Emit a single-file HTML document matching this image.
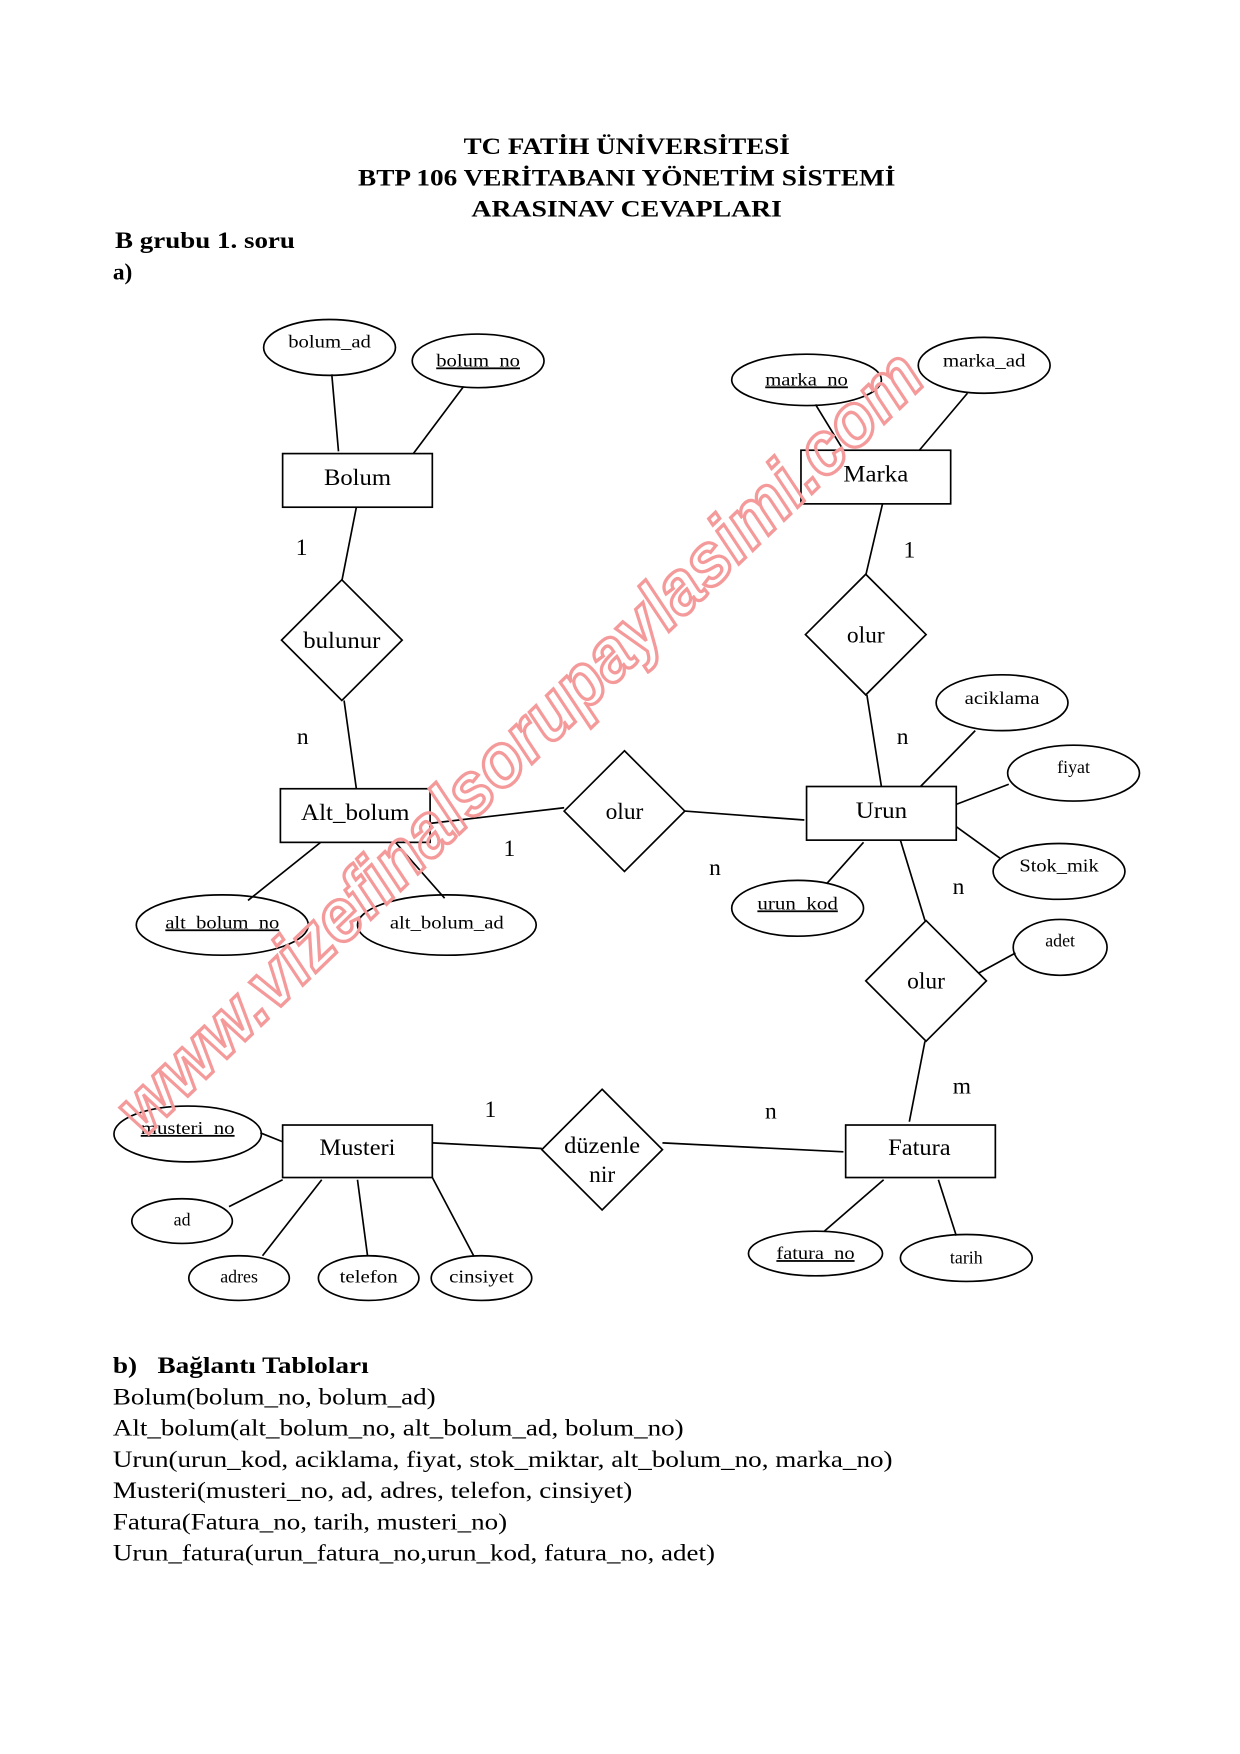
<!DOCTYPE html>
<html><head><meta charset="utf-8"><style>
html,body{margin:0;padding:0;background:#fff}
svg{display:block}
text{font-family:"Liberation Serif",serif;fill:#000}
</style></head><body>
<svg width="1240" height="1754" viewBox="0 0 1110 1570" preserveAspectRatio="none" xmlns="http://www.w3.org/2000/svg">
<g text-anchor="middle" font-weight="bold" font-size="21">
<text x="561" y="138" textLength="292" lengthAdjust="spacingAndGlyphs">TC FATİH ÜNİVERSİTESİ</text>
<text x="561" y="166" textLength="481" lengthAdjust="spacingAndGlyphs">BTP 106 VERİTABANI YÖNETİM SİSTEMİ</text>
<text x="561" y="194" textLength="278" lengthAdjust="spacingAndGlyphs">ARASINAV CEVAPLARI</text>
</g>
<text x="103" y="222" font-weight="bold" font-size="21" textLength="161" lengthAdjust="spacingAndGlyphs">B grubu 1. soru</text>
<text x="101" y="250" font-weight="bold" font-size="21">a)</text>

<g stroke="#000" stroke-width="1.5" fill="none">
<line x1="297" y1="335" x2="303" y2="404"/><line x1="415" y1="346" x2="370" y2="406"/>
<line x1="730" y1="362" x2="755" y2="403"/><line x1="866" y1="352" x2="823" y2="403"/>
<line x1="319" y1="454" x2="306" y2="520"/><line x1="308" y1="627" x2="319" y2="706"/>
<line x1="790" y1="451" x2="775" y2="515"/><line x1="776" y1="622" x2="789" y2="704"/>
<line x1="385" y1="737" x2="505" y2="723"/><line x1="613" y1="726" x2="720" y2="734"/>
<line x1="287" y1="754" x2="222" y2="806"/><line x1="354" y1="754" x2="398" y2="804"/>
<line x1="873" y1="654" x2="824" y2="704"/><line x1="903" y1="702" x2="856" y2="720"/>
<line x1="895" y1="768" x2="856" y2="740"/><line x1="773" y1="754" x2="740" y2="791"/>
<line x1="806" y1="752" x2="828" y2="824"/><line x1="909" y1="853" x2="876" y2="871"/>
<line x1="828" y1="932" x2="814" y2="1004"/>
<line x1="387" y1="1023" x2="485" y2="1028"/><line x1="593" y1="1023" x2="755" y2="1031"/>
<line x1="233" y1="1014" x2="253" y2="1022"/><line x1="205" y1="1080" x2="253" y2="1056"/>
<line x1="235" y1="1124" x2="288" y2="1056"/><line x1="320" y1="1056" x2="329" y2="1124"/>
<line x1="387" y1="1054" x2="424" y2="1124"/>
<line x1="791" y1="1056" x2="738" y2="1102"/><line x1="840" y1="1056" x2="856" y2="1106"/>

<ellipse cx="295" cy="311" rx="59" ry="25"/><ellipse cx="428" cy="323" rx="59" ry="24"/>
<ellipse cx="722" cy="340" rx="67" ry="23"/><ellipse cx="881" cy="327" rx="59" ry="25"/>
<ellipse cx="199" cy="828" rx="77" ry="27"/><ellipse cx="400" cy="828" rx="80" ry="27"/>
<ellipse cx="897" cy="629" rx="59" ry="25"/><ellipse cx="961" cy="692" rx="59" ry="25"/>
<ellipse cx="948" cy="780" rx="59" ry="25"/><ellipse cx="714" cy="813" rx="59" ry="25"/>
<ellipse cx="949" cy="848" rx="42" ry="25"/>
<ellipse cx="168" cy="1015" rx="66" ry="25"/><ellipse cx="163" cy="1093" rx="45" ry="20"/>
<ellipse cx="214" cy="1144" rx="45" ry="20"/><ellipse cx="330" cy="1144" rx="45" ry="20"/>
<ellipse cx="431" cy="1144" rx="45" ry="20"/>
<ellipse cx="730" cy="1122" rx="60" ry="20"/><ellipse cx="865" cy="1126" rx="59" ry="21"/>

<rect x="253" y="406" width="134" height="48"/><rect x="717" y="403" width="134" height="48"/>
<rect x="251" y="706" width="134" height="48"/><rect x="722" y="704" width="134" height="48"/>
<rect x="253" y="1007" width="134" height="47"/><rect x="757" y="1007" width="134" height="47"/>

<polygon points="306,519 360,573 306,627 252,573"/>
<polygon points="775,514 829,568 775,622 721,568"/>
<polygon points="559,672 613,726 559,780 505,726"/>
<polygon points="829,824 883,878 829,932 775,878"/>
<polygon points="539,975 593,1029 539,1083 485,1029"/>
</g>

<g text-anchor="middle" font-size="21">
<text x="320" y="434" textLength="60" lengthAdjust="spacingAndGlyphs">Bolum</text>
<text x="784" y="431" textLength="58" lengthAdjust="spacingAndGlyphs">Marka</text>
<text x="318" y="734" textLength="97" lengthAdjust="spacingAndGlyphs">Alt_bolum</text>
<text x="789" y="732" textLength="46" lengthAdjust="spacingAndGlyphs">Urun</text>
<text x="320" y="1034" textLength="68" lengthAdjust="spacingAndGlyphs">Musteri</text>
<text x="823" y="1034" textLength="56" lengthAdjust="spacingAndGlyphs">Fatura</text>
<text x="306" y="580" textLength="69" lengthAdjust="spacingAndGlyphs">bulunur</text>
<text x="775" y="575">olur</text>
<text x="559" y="733">olur</text><text x="829" y="885">olur</text>
<text x="539" y="1032" textLength="68" lengthAdjust="spacingAndGlyphs">düzenle</text><text x="539" y="1058">nir</text>
<text x="270" y="497">1</text><text x="271" y="666">n</text>
<text x="814" y="499">1</text><text x="808" y="666">n</text>
<text x="456" y="766">1</text><text x="640" y="783">n</text>
<text x="858" y="800">n</text><text x="861" y="979">m</text>
<text x="439" y="1000">1</text><text x="690" y="1001">n</text>
</g>
<g text-anchor="middle" font-size="16">
<text x="295" y="311" textLength="74" lengthAdjust="spacingAndGlyphs">bolum_ad</text>
<text x="428" y="328" text-decoration="underline" textLength="75" lengthAdjust="spacingAndGlyphs">bolum_no</text>
<text x="722" y="345" text-decoration="underline" textLength="74" lengthAdjust="spacingAndGlyphs">marka_no</text>
<text x="881" y="328" textLength="74" lengthAdjust="spacingAndGlyphs">marka_ad</text>
<text x="199" y="831" text-decoration="underline" textLength="102" lengthAdjust="spacingAndGlyphs">alt_bolum_no</text>
<text x="400" y="831" textLength="102" lengthAdjust="spacingAndGlyphs">alt_bolum_ad</text>
<text x="897" y="630" textLength="67" lengthAdjust="spacingAndGlyphs">aciklama</text><text x="961" y="692">fiyat</text>
<text x="948" y="780" textLength="71" lengthAdjust="spacingAndGlyphs">Stok_mik</text>
<text x="714" y="814" text-decoration="underline" textLength="72" lengthAdjust="spacingAndGlyphs">urun_kod</text>
<text x="949" y="847">adet</text>
<text x="168" y="1015" text-decoration="underline" textLength="84" lengthAdjust="spacingAndGlyphs">musteri_no</text>
<text x="163" y="1097">ad</text><text x="214" y="1148">adres</text>
<text x="330" y="1148" textLength="52" lengthAdjust="spacingAndGlyphs">telefon</text>
<text x="431" y="1148" textLength="58" lengthAdjust="spacingAndGlyphs">cinsiyet</text>
<text x="730" y="1127" text-decoration="underline" textLength="70" lengthAdjust="spacingAndGlyphs">fatura_no</text>
<text x="865" y="1131">tarih</text>
</g>

<text x="480" y="680" transform="rotate(-44 480 680)" text-anchor="middle" font-size="66" font-weight="bold" font-style="italic" fill="none" stroke="#f59a9a" stroke-width="3" textLength="975" lengthAdjust="spacingAndGlyphs" style="fill:none;font-family:'Liberation Sans',sans-serif">www.vizefinalsorupaylasimi.com</text>

<text x="101" y="1229" font-weight="bold" font-size="21" textLength="229" lengthAdjust="spacingAndGlyphs">b)&#160;&#160;&#160;Bağlantı Tabloları</text>
<g font-size="21">
<text x="101" y="1257" textLength="289" lengthAdjust="spacingAndGlyphs">Bolum(bolum_no, bolum_ad)</text>
<text x="101" y="1285" textLength="511" lengthAdjust="spacingAndGlyphs">Alt_bolum(alt_bolum_no, alt_bolum_ad, bolum_no)</text>
<text x="101" y="1313" textLength="698" lengthAdjust="spacingAndGlyphs">Urun(urun_kod, aciklama, fiyat, stok_miktar, alt_bolum_no, marka_no)</text>
<text x="101" y="1341" textLength="465" lengthAdjust="spacingAndGlyphs">Musteri(musteri_no, ad, adres, telefon, cinsiyet)</text>
<text x="101" y="1369" textLength="353" lengthAdjust="spacingAndGlyphs">Fatura(Fatura_no, tarih, musteri_no)</text>
<text x="101" y="1397" textLength="539" lengthAdjust="spacingAndGlyphs">Urun_fatura(urun_fatura_no,urun_kod, fatura_no, adet)</text>
</g>
</svg>
</body></html>
